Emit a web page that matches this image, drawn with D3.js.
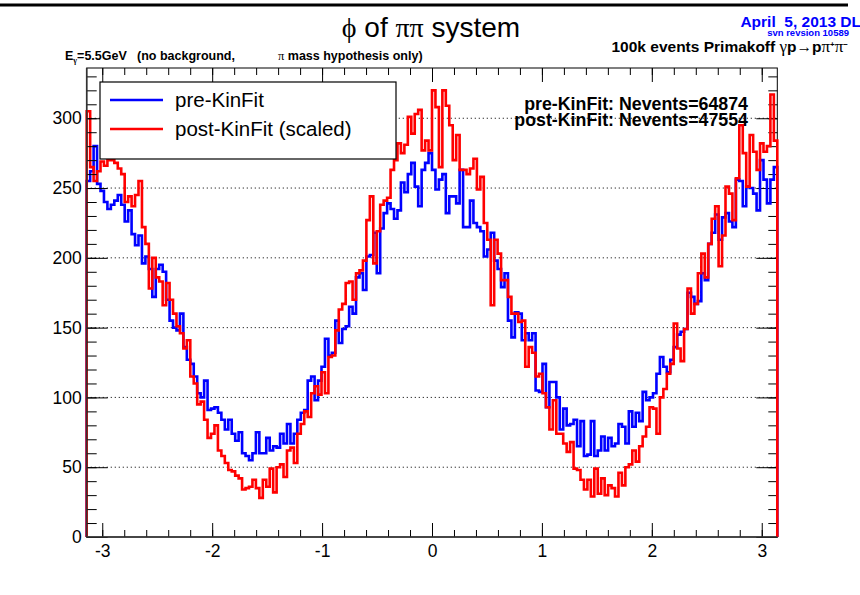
<!DOCTYPE html>
<html><head><meta charset="utf-8">
<script src="https://cdn.jsdelivr.net/npm/d3@7"></script>
<style>
body{margin:0;background:#fff}
svg{display:block}
text{font-family:"Liberation Sans",Arial,Helvetica,sans-serif}
.g{font-family:"Liberation Serif","DejaVu Serif",serif}
</style>
</head><body><svg id="c" width="860" height="595"></svg>
<script>
// ---- data (200 bins from -pi to pi) ----
const preKinFit = [
255,262,280,253,248,240,235,238,241,245,
238,226,234,217,209,216,196,201,192,172,
192,195,190,170,155,150,148,160,136,127,
124,115,103,100,112,91,92,93,89,84,
77,84,74,69,75,60,58,55,60,75,
60,60,71,62,65,64,74,67,81,67,
74,84,89,91,112,115,98,112,122,142,
130,132,155,139,149,151,165,160,186,189,
177,201,202,218,189,221,232,239,235,228,
234,254,247,260,268,251,237,263,268,275,
263,249,256,260,232,244,244,239,263,222,
222,241,225,222,219,201,206,218,198,192,
179,189,155,143,161,160,141,146,141,146,
105,104,124,93,111,111,100,77,92,80,
81,84,65,83,58,59,83,58,62,72,
62,71,65,67,81,79,67,90,79,89,
83,104,98,100,103,117,129,122,118,127,
136,145,147,149,175,172,167,169,189,184,
210,218,231,213,229,232,226,222,256,255,
237,251,250,246,234,270,256,239,256,265];
const postKinFit = [
305,265,255,262,269,266,270,270,268,264,
260,240,244,237,245,255,222,210,178,200,
186,183,166,182,170,160,151,146,135,141,
115,110,95,97,84,71,74,80,62,58,
53,48,47,44,42,34,35,36,41,35,
28,41,36,49,32,50,52,43,62,64,
53,74,81,90,86,103,108,102,118,103,
129,130,148,163,167,182,183,170,189,191,
198,227,244,196,219,238,241,243,263,270,
282,275,281,301,289,303,306,277,284,277,
320,308,265,320,309,295,270,288,263,263,
260,264,271,249,258,225,213,166,213,203,
184,184,172,160,160,154,155,122,136,132,
115,117,103,93,77,98,74,74,67,61,
68,49,48,41,34,41,29,49,31,42,
30,37,35,29,46,37,50,52,62,54,
65,72,79,93,92,74,100,106,117,124,
153,135,126,149,178,160,167,189,203,186,
210,228,237,194,216,251,246,227,257,295,
275,251,288,276,263,282,276,280,317,284];
const xTickLabels = [-3,-2,-1,0,1,2,3];
const yTickLabels = [0,50,100,150,200,250,300];
const seriesNames = ["pre-KinFit","post-KinFit (scaled)"];
const seriesColors = ["#0000ff","#ff0000"];
const neventsLabels = ["pre-KinFit: Nevents=64874","post-KinFit: Nevents=47554"];

// ---- layout ----
const svg = d3.select("#c");
const L = 86.7, R = 777.3, T = 68, B = 537;
const x = d3.scaleLinear().domain([-Math.PI, Math.PI]).range([L, R]);
const y = d3.scaleLinear().domain([0, 336]).range([B, T]);
const nb = preKinFit.length;
const edge = i => -Math.PI + i * 2 * Math.PI / nb;
const fmt = d => String(d);

svg.append("rect").attr("width",860).attr("height",595).attr("fill","#fff");
// top band
svg.append("line").attr("x1",0).attr("x2",848).attr("y1",5).attr("y2",5).attr("stroke","#000").attr("stroke-width",3);

// frame
svg.append("rect").attr("x",L).attr("y",T).attr("width",R-L).attr("height",B-T)
  .attr("fill","none").attr("stroke","#000").attr("stroke-width",1);

// grid
svg.append("g").selectAll("line").data(yTickLabels.filter(v=>v>0)).join("line")
  .attr("x1",L).attr("x2",R).attr("y1",d=>y(d)).attr("y2",d=>y(d))
  .attr("stroke","#333").attr("stroke-width",1).attr("stroke-dasharray","1.3,2.7");

// right ticks
const yMinor = d3.range(0, 336, 10);
svg.append("g").attr("transform",`translate(${R},0)`)
  .call(d3.axisRight(y).tickValues(yMinor).tickSize(-9).tickFormat(""))
  .call(g=>g.select(".domain").remove());
svg.append("g").attr("transform",`translate(${R},0)`)
  .call(d3.axisRight(y).tickValues(yTickLabels).tickSize(-21).tickFormat(""))
  .call(g=>g.select(".domain").remove());

// histograms
function histPath(vals){
  const pts = [[x(edge(0)), y(0)]];
  vals.forEach((v,i)=>{ pts.push([x(edge(i)), y(v)]); pts.push([x(edge(i+1)), y(v)]); });
  pts.push([x(edge(nb)), y(0)]);
  return d3.line()(pts);
}
[preKinFit, postKinFit].forEach((vals,k)=>{
  svg.append("path").attr("d",histPath(vals)).attr("fill","none")
    .attr("stroke",seriesColors[k]).attr("stroke-width",2.6).attr("stroke-linejoin","miter");
});

// axes
const xMinor = d3.range(-15,16).map(i=>i/5);
const styleAxis = g => { g.select(".domain").remove(); g.selectAll("line").attr("stroke","#000"); g.selectAll("text").attr("fill","#000").attr("font-size",17.5).attr("font-family","Liberation Sans, Arial, sans-serif"); };
svg.append("g").attr("transform",`translate(0,${B})`)
  .call(d3.axisBottom(x).tickValues(xMinor).tickSize(-7).tickFormat("")).call(styleAxis);
svg.append("g").attr("transform",`translate(0,${B})`)
  .call(d3.axisBottom(x).tickValues(xTickLabels).tickSize(-14).tickPadding(8).tickFormat(fmt)).call(styleAxis);
svg.append("g").attr("transform",`translate(0,${T})`)
  .call(d3.axisTop(x).tickValues(xMinor).tickSize(-7).tickFormat("")).call(styleAxis);
svg.append("g").attr("transform",`translate(0,${T})`)
  .call(d3.axisTop(x).tickValues(xTickLabels).tickSize(-14).tickFormat("")).call(styleAxis);
svg.append("g").attr("transform",`translate(${L},0)`)
  .call(d3.axisLeft(y).tickValues(yMinor).tickSize(-10).tickFormat("")).call(styleAxis);
svg.append("g").attr("transform",`translate(${L},0)`)
  .call(d3.axisLeft(y).tickValues(yTickLabels).tickSize(-21).tickPadding(5).tickFormat(fmt)).call(styleAxis);
svg.append("line").attr("x1",L).attr("x2",L).attr("y1",T).attr("y2",B).attr("stroke","#333").attr("stroke-width",1.6);
svg.append("line").attr("x1",L).attr("x2",R).attr("y1",B).attr("y2",B).attr("stroke","#333").attr("stroke-width",1.6);

// legend
const lg = svg.append("g");
lg.append("rect").attr("x",100).attr("y",82).attr("width",296).attr("height",77)
  .attr("fill","#fff").attr("stroke","#000").attr("stroke-width",1.2);
seriesNames.forEach((n,i)=>{
  const yy = 100 + i*29;
  lg.append("line").attr("x1",110).attr("x2",163).attr("y1",yy).attr("y2",yy)
    .attr("stroke",seriesColors[i]).attr("stroke-width",2.6);
  lg.append("text").attr("x",175).attr("y",yy+7).attr("font-size",20.5).attr("fill","#000").text(n);
});

// nevents
neventsLabels.forEach((t,i)=>{
  svg.append("text").attr("x",748).attr("y",110+i*16).attr("text-anchor","end")
    .attr("font-size",17.8).attr("font-weight","bold").attr("fill","#000").text(t);
});

// title
const tt = svg.append("text").attr("x",431).attr("y",37).attr("text-anchor","middle").attr("font-size",28).attr("fill","#000");
tt.append("tspan").attr("class","g").text("\u03D5");
tt.append("tspan").text(" of ");
tt.append("tspan").attr("class","g").text("\u03C0\u03C0");
tt.append("tspan").text(" system");

// top right
svg.append("text").attr("x",861).attr("y",27).attr("text-anchor","end").attr("font-size",15.5)
  .attr("font-weight","bold").attr("fill","#0000ff").attr("xml:space","preserve").text("April  5, 2013 DL");
svg.append("text").attr("x",849).attr("y",36).attr("text-anchor","end").attr("font-size",9.5)
  .attr("font-weight","bold").attr("fill","#0000ff").text("svn revsion 10589");
const pt = svg.append("text").attr("x",848).attr("y",52).attr("text-anchor","end").attr("font-size",15.5)
  .attr("font-weight","bold").attr("fill","#000");
pt.append("tspan").text("100k events Primakoff ");
pt.append("tspan").attr("class","g").attr("font-weight","normal").attr("font-size",17).text("\u03B3");
pt.append("tspan").text("p\u2192p");
pt.append("tspan").attr("class","g").attr("font-weight","normal").attr("font-size",17).text("\u03C0");
pt.append("tspan").attr("font-size",8).attr("dy",-5.5).text("+");
pt.append("tspan").attr("class","g").attr("font-weight","normal").attr("font-size",17).attr("dy",5.5).text("\u03C0");
pt.append("tspan").attr("font-size",8).attr("dy",-5.5).text("\u2212");

// energy line
const et = svg.append("text").attr("y",60).attr("font-size",12.5).attr("font-weight","bold").attr("fill","#000");
et.append("tspan").attr("x",65).text("E");
et.append("tspan").attr("font-size",8).attr("dy",3).attr("class","g").text("\u03B3");
et.append("tspan").attr("dy",-3).text("=5.5GeV");
et.append("tspan").attr("x",137).text("(no background,");
et.append("tspan").attr("x",278).attr("class","g").attr("font-weight","normal").text("\u03C0");
et.append("tspan").text(" mass hypothesis only)");
</script>
</body></html>
